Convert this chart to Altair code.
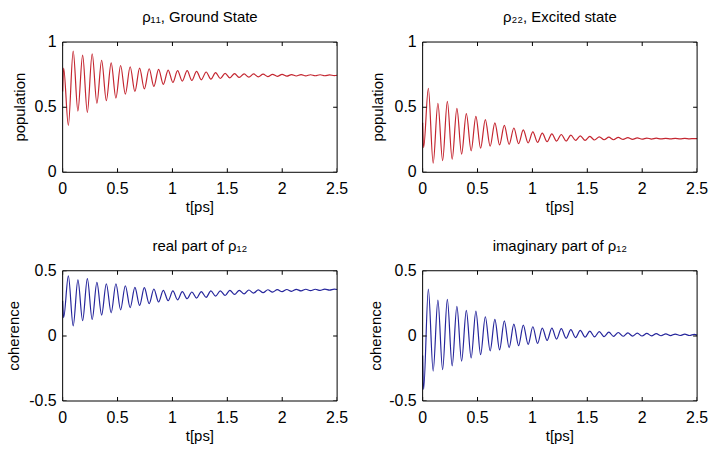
import altair as alt
import pandas as pd

# time samples [ps] (start, successive extrema, end)
t_ps = [0.0,
        0.009, 0.052, 0.096, 0.139, 0.182, 0.225, 0.269, 0.312, 0.355, 0.398,
        0.442, 0.485, 0.528, 0.571, 0.615, 0.658, 0.701, 0.744, 0.788, 0.831,
        0.874, 0.917, 0.961, 1.004, 1.047, 1.090, 1.134, 1.177, 1.220, 1.263,
        1.307, 1.350, 1.393, 1.436, 1.480, 1.523, 1.566, 1.609, 1.653, 1.696,
        1.739, 1.782, 1.826, 1.869, 1.912, 1.955, 1.999, 2.042, 2.085, 2.128,
        2.172, 2.215, 2.258, 2.301, 2.345, 2.388, 2.431, 2.474,
        2.5]

rho11 = [0.62,
         0.80, 0.36, 0.93, 0.47, 0.90, 0.46, 0.91, 0.53, 0.86, 0.55,
         0.84, 0.57, 0.82, 0.60, 0.81, 0.62, 0.80, 0.64, 0.795, 0.66,
         0.79, 0.675, 0.785, 0.69, 0.78, 0.70, 0.78, 0.705, 0.775, 0.71,
         0.77, 0.715, 0.765, 0.72, 0.76, 0.725, 0.758, 0.728, 0.755, 0.73,
         0.755, 0.733, 0.753, 0.735, 0.752, 0.737, 0.751, 0.738, 0.75, 0.739,
         0.75, 0.74, 0.749, 0.741, 0.749, 0.741, 0.748, 0.742,
         0.745]

rho22 = [0.38,
         0.19, 0.645, 0.07, 0.53, 0.09, 0.545, 0.10, 0.49, 0.14, 0.45,
         0.165, 0.43, 0.185, 0.405, 0.20, 0.38, 0.21, 0.36, 0.215, 0.34,
         0.22, 0.325, 0.225, 0.31, 0.23, 0.30, 0.235, 0.295, 0.24, 0.29,
         0.24, 0.285, 0.245, 0.28, 0.245, 0.275, 0.248, 0.272, 0.25, 0.27,
         0.25, 0.268, 0.252, 0.266, 0.253, 0.264, 0.254, 0.263, 0.255, 0.262,
         0.256, 0.261, 0.256, 0.26, 0.257, 0.26, 0.257, 0.259,
         0.258]

rho12_re = [0.27,
            0.14, 0.46, 0.077, 0.43, 0.117, 0.44, 0.126, 0.41, 0.16, 0.40,
            0.177, 0.40, 0.20, 0.385, 0.217, 0.372, 0.234, 0.37, 0.247, 0.36,
            0.26, 0.35, 0.27, 0.345, 0.277, 0.34, 0.285, 0.337, 0.29, 0.34,
            0.296, 0.345, 0.305, 0.345, 0.31, 0.35, 0.318, 0.35, 0.322, 0.352,
            0.328, 0.353, 0.332, 0.354, 0.336, 0.355, 0.339, 0.356, 0.342, 0.357,
            0.345, 0.358, 0.347, 0.358, 0.349, 0.359, 0.351, 0.359,
            0.356]

rho12_im = [-0.15,
            -0.41, 0.36, -0.27, 0.275, -0.26, 0.28, -0.23, 0.226, -0.194, 0.196,
            -0.17, 0.19, -0.144, 0.147, -0.115, 0.127, -0.107, 0.115, -0.09, 0.09,
            -0.075, 0.083, -0.065, 0.07, -0.058, 0.06, -0.035, 0.06, -0.025, 0.055,
            -0.018, 0.048, -0.013, 0.042, -0.01, 0.037, -0.007, 0.033, -0.005, 0.029,
            -0.004, 0.026, -0.003, 0.023, -0.002, 0.021, -0.001, 0.019, 0.0, 0.017,
            0.001, 0.015, 0.002, 0.014, 0.003, 0.013, 0.003, 0.012,
            0.006]

x_ticks = [0, 0.5, 1, 1.5, 2, 2.5]
pop_ticks = [0, 0.5, 1]
coh_ticks = [-0.5, 0, 0.5]

titles = ["ρ₁₁, Ground State", "ρ₂₂, Excited state",
          "real part of ρ₁₂", "imaginary part of ρ₁₂"]
x_title = "t[ps]"

RED = "#c42630"
BLUE = "#26269c"
FONT = "Liberation Sans"
W, H = 276, 131
X_DOM = [0, 2.5]
LBL_T = "(datum.t < 0 ? '-' : '') + format(abs(datum.t), '~g')"
LBL_V = "(datum.v < 0 ? '-' : '') + format(abs(datum.v), '~g')"


def panel(values, color, title, ylabel, ydom, yticks, ytitle_off):
    xs = alt.Scale(domain=X_DOM, nice=False, zero=False)
    ys = alt.Scale(domain=ydom, nice=False, zero=False)

    def xy(c):
        return c.encode(x=alt.X("t:Q", scale=xs, axis=None),
                        y=alt.Y("v:Q", scale=ys, axis=None))

    df = pd.DataFrame({"t": t_ps, "v": values})
    curve = xy(alt.Chart(df).mark_line(color=color, strokeWidth=1.2, interpolate="monotone"))

    # box around the plot area: the corners of the axis domains
    box_df = pd.DataFrame({
        "i": [0, 1, 2, 3, 4],
        "t": [X_DOM[0], X_DOM[1], X_DOM[1], X_DOM[0], X_DOM[0]],
        "v": [ydom[0], ydom[0], ydom[1], ydom[1], ydom[0]],
    })
    box = xy(alt.Chart(box_df).mark_line(color="black", strokeWidth=1)).encode(order="i:Q")

    # inward tick marks on all four sides (clipped to the plot area)
    xt_df = pd.DataFrame({"t": x_ticks * 2,
                          "v": [ydom[0]] * len(x_ticks) + [ydom[1]] * len(x_ticks)})
    yt_df = pd.DataFrame({"v": yticks * 2,
                          "t": [X_DOM[0]] * len(yticks) + [X_DOM[1]] * len(yticks)})
    xt = xy(alt.Chart(xt_df).mark_tick(orient="vertical", size=8, thickness=1,
                                       color="black", clip=True, opacity=1))
    yt = xy(alt.Chart(yt_df).mark_tick(orient="horizontal", size=8, thickness=1,
                                       color="black", clip=True, opacity=1))

    # tick labels
    xl_df = pd.DataFrame({"t": x_ticks, "v": [ydom[0]] * len(x_ticks)})
    yl_df = pd.DataFrame({"v": yticks, "t": [X_DOM[0]] * len(yticks)})
    xl = xy(alt.Chart(xl_df).transform_calculate(lab=LBL_T).mark_text(
        font=FONT, fontSize=16, color="black", align="center", baseline="middle", dy=17
    )).encode(text="lab:N")
    yl = xy(alt.Chart(yl_df).transform_calculate(lab=LBL_V).mark_text(
        font=FONT, fontSize=16, color="black", align="right", baseline="middle", dx=-6
    )).encode(text="lab:N")

    # axis titles
    tt_df = pd.DataFrame({"label": [x_title]})
    xtitle = alt.Chart(tt_df).mark_text(
        font=FONT, fontSize=15, color="black", align="center", baseline="middle"
    ).encode(text="label:N", x=alt.value(W / 2), y=alt.value(H + 35))
    yt_lab = pd.DataFrame({"label": [ylabel]})
    ytitle = alt.Chart(yt_lab).mark_text(
        font=FONT, fontSize=15, color="black", align="center", baseline="middle", angle=270
    ).encode(text="label:N", x=alt.value(-ytitle_off), y=alt.value(H / 2))

    return alt.layer(curve, box, xt, yt, xl, yl, xtitle, ytitle).properties(
        width=W, height=H,
        title=alt.Title(title, fontSize=15, font=FONT, fontWeight="normal", color="black", offset=9),
    )


p1 = panel(rho11, RED, titles[0], "population", [0, 1], pop_ticks, 43)
p2 = panel(rho22, RED, titles[1], "population", [0, 1], pop_ticks, 45)
p3 = panel(rho12_re, BLUE, titles[2], "coherence", [-0.5, 0.5], coh_ticks, 49)
p4 = panel(rho12_im, BLUE, titles[3], "coherence", [-0.5, 0.5], coh_ticks, 47)

chart = alt.concat(p1, p2, p3, p4, columns=2, spacing={"row": 99, "column": 86},
                   bounds="flush").properties(
    padding={"left": 7, "top": 9, "right": 5, "bottom": 5},
    background="white",
).configure_view(stroke=None)

chart.save("out.html", embed_options={"renderer": "svg", "actions": False})
